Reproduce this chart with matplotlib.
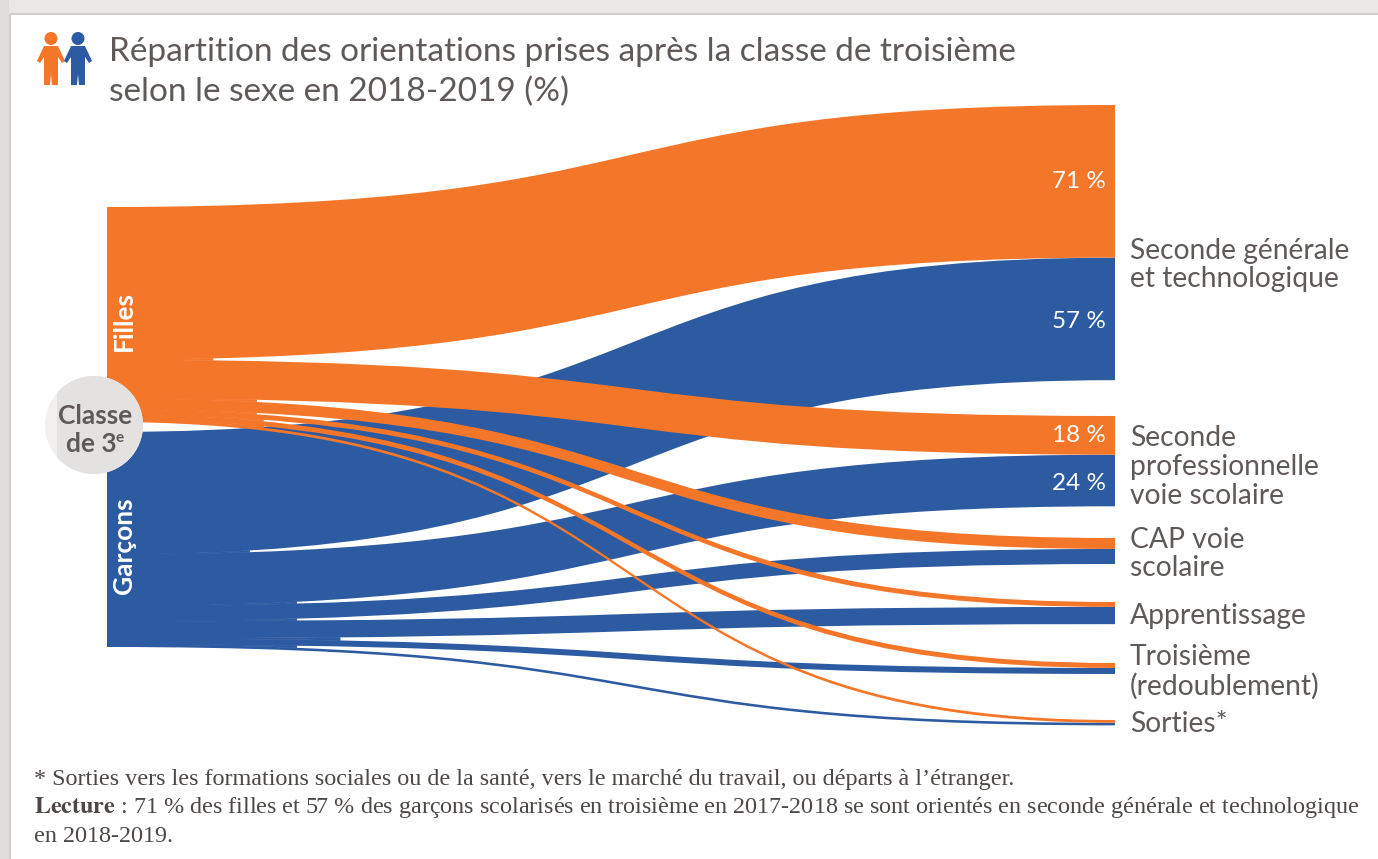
"""Sankey of orientation choices after troisieme, by sex, drawn with plain bezier patches."""
import matplotlib
matplotlib.use("Agg")
import matplotlib.pyplot as plt
import numpy as np
from matplotlib.patches import Circle, PathPatch, Polygon, Rectangle
from matplotlib.path import Path

plt.rcParams["mathtext.fontset"] = "stix"

OUTCOMES = ["Seconde générale\net technologique", "Seconde\nprofessionnelle\nvoie scolaire",
            "CAP voie\nscolaire", "Apprentissage", "Troisième\n(redoublement)", "Sorties*"]
FILLES = [71, 18, 5.1, 2.3, 2.3, 1.3]
GARCONS = [57, 24, 7, 8, 2.8, 1.2]
SHOWN_F = ["71 %", "18 %"]
SHOWN_G = ["57 %", "24 %"]
TITLE = ["Répartition des orientations prises après la classe de troisième",
         "selon le sexe en 2018-2019 (%)"]
NOTE1 = "* Sorties vers les formations sociales ou de la santé, vers le marché du travail, ou départs à l’étranger."
NOTE2 = ("$\\mathbf{Lecture}$ : 71 % des filles et 57 % des garçons scolarisés en troisième en 2017-2018 "
         "se sont orientés en seconde générale et technologique")
NOTE3 = "en 2018-2019."

# layout, in pixels of the output picture
ORANGE, BLUE = "#f47629", "#2d5ba1"
TEXT, NOTE = "#5f5a58", "#4d4846"
X0, X1 = 107, 1115
PX = 2.15  # pixels per percentage point
TOP_F, TOP_G = 207, 432
RIGHT_TOPS = [105, 416, 538, 602, 663, 720]
LABEL_Y = [265, 467, 554, 616, 672, 724]
C1, C2 = 0.58, 0.46  # control points of the s-curve, as share of width
# where the white gap between two neighbouring flows opens on the left
TIPS_F = [215, 262, 263, 265, 268]
TIPS_G = [252, 300, 302, 343, 300]


def band(ax, y0, y1, h, color, z):
    xa, xb = X0 + C1 * (X1 - X0), X0 + C2 * (X1 - X0)
    verts = [(X0, y0), (xa, y0), (xb, y1), (X1, y1), (X1, y1 + h),
             (xb, y1 + h), (xa, y0 + h), (X0, y0 + h), (X0, y0)]
    codes = [Path.MOVETO, Path.CURVE4, Path.CURVE4, Path.CURVE4, Path.LINETO,
             Path.CURVE4, Path.CURVE4, Path.CURVE4, Path.CLOSEPOLY]
    ax.add_patch(PathPatch(Path(verts, codes), fc=color, ec="none", zorder=z))


def edge(y0, y1):
    t = np.linspace(0, 1, 200)
    xa, xb = X0 + C1 * (X1 - X0), X0 + C2 * (X1 - X0)
    xs = (1 - t) ** 3 * X0 + 3 * (1 - t) ** 2 * t * xa + 3 * (1 - t) * t ** 2 * xb + t ** 3 * X1
    ys = (1 - t) ** 3 * y0 + 3 * (1 - t) ** 2 * t * y0 + 3 * (1 - t) * t ** 2 * y1 + t ** 3 * y1
    return xs, ys


def fill_gap(ax, upper, lower, tip, color, z):
    # the flows leave the block as one mass, so close the sliver up to the tip
    xu, yu = edge(*upper)
    xl, yl = edge(*lower)
    keep = xu <= tip
    pts = list(zip(xu[keep], yu[keep])) + list(zip(xl[keep][::-1], yl[keep][::-1]))
    ax.add_patch(Polygon(pts, fc=color, ec=color, lw=0.6, zorder=z))


def flows(ax, values, top, right_tops, tips, color, z):
    left = top
    prev = None
    for i, (v, rt) in enumerate(zip(values, right_tops)):
        h = v * PX
        band(ax, left, rt, h, color, z)
        if prev is not None:
            fill_gap(ax, prev, (left, rt), tips[i - 1], color, z)
        prev = (left + h, rt + h)
        left += h


def person(ax, cx, color):
    ax.add_patch(Circle((cx, 38.5), 6.5, fc=color, ec="none", zorder=5))
    shape = [(-7, 46), (7, 46), (14, 61), (11, 63), (7, 57), (7, 85), (1, 85), (0, 74),
             (-1, 85), (-7, 85), (-7, 57), (-11, 63), (-14, 61)]
    ax.add_patch(Polygon([(cx + dx, y) for dx, y in shape], fc=color, ec="none", zorder=5))


fig = plt.figure(figsize=(13.78, 8.59), dpi=100, facecolor="white")
ax = fig.add_axes([0, 0, 1, 1])
ax.set_xlim(0, 1378)
ax.set_ylim(859, 0)
ax.axis("off")

# grey page edge on top and left
ax.add_patch(Rectangle((0, 0), 1378, 13, fc="#e9e8e7", ec="none", zorder=0))
ax.add_patch(Rectangle((0, 0), 9, 859, fc="#dedcdb", ec="none", zorder=0))
ax.plot([10, 10, 1378], [859, 14, 14], color="#c9c4c1", lw=1.2, zorder=1)

right_f = RIGHT_TOPS
right_g = [rt + f * PX for rt, f in zip(RIGHT_TOPS, FILLES)]
flows(ax, GARCONS, TOP_G, right_g, TIPS_G, BLUE, 2)
flows(ax, FILLES, TOP_F, right_f, TIPS_F, ORANGE, 3)

for i, (sf, sg) in enumerate(zip(SHOWN_F, SHOWN_G)):
    hf, hg = FILLES[i] * PX, GARCONS[i] * PX
    ax.text(1106, right_f[i] + hf / 2, sf, color="white", fontsize=17.5, ha="right", va="center",
            family="Lato", zorder=6)
    ax.text(1106, right_g[i] + hg / 2 + 3, sg, color="white", fontsize=17.5, ha="right", va="center",
            family="Lato", zorder=6)

for label, y in zip(OUTCOMES, LABEL_Y):
    ax.text(1130, y, label, color=TEXT, fontsize=20.3, ha="left", va="center", family="Lato",
            linespacing=1.12, zorder=6)

ax.text(124, 321, "Filles", color="white", fontsize=19, fontweight="bold", rotation=90,
        ha="center", va="center", family="Lato", zorder=6)
ax.text(124, 546, "Garçons", color="white", fontsize=19, fontweight="bold", rotation=90,
        ha="center", va="center", family="Lato", zorder=6)

# centre disc, its far left part is cut and fainter in the source
ax.add_patch(Circle((94, 425), 49, fc="#f1f0ef", ec="none", zorder=6))
disc = Circle((94, 425), 49, fc="#e3e2e0", ec="none", zorder=7)
ax.add_patch(disc)
disc.set_clip_path(Rectangle((57, 370), 100, 110, transform=ax.transData))
ax.text(95, 416, "Classe", color=TEXT, fontsize=19, fontweight="bold", ha="center", va="center",
        family="Lato", zorder=8)
ax.text(91, 444, "de 3", color=TEXT, fontsize=19, fontweight="bold", ha="center", va="center",
        family="Lato", zorder=8)
ax.text(120, 438, "e", color=TEXT, fontsize=11, fontweight="bold", ha="center", va="center",
        family="Lato", zorder=8)

person(ax, 51, ORANGE)
person(ax, 78, BLUE)

ax.text(109, 52, TITLE[0], color=TEXT, fontsize=24, ha="left", va="center", family="Lato")
ax.text(109, 92, TITLE[1], color=TEXT, fontsize=24, ha="left", va="center", family="Lato")

ax.text(34, 780, NOTE1, color=NOTE, fontsize=17.4, ha="left", va="center", family="Liberation Serif")
ax.text(34, 808, NOTE2, color=NOTE, fontsize=17.4, ha="left", va="center", family="Liberation Serif")
ax.text(34, 836, NOTE3, color=NOTE, fontsize=17.4, ha="left", va="center", family="Liberation Serif")

fig.savefig("out.png", dpi=100, facecolor="white")
